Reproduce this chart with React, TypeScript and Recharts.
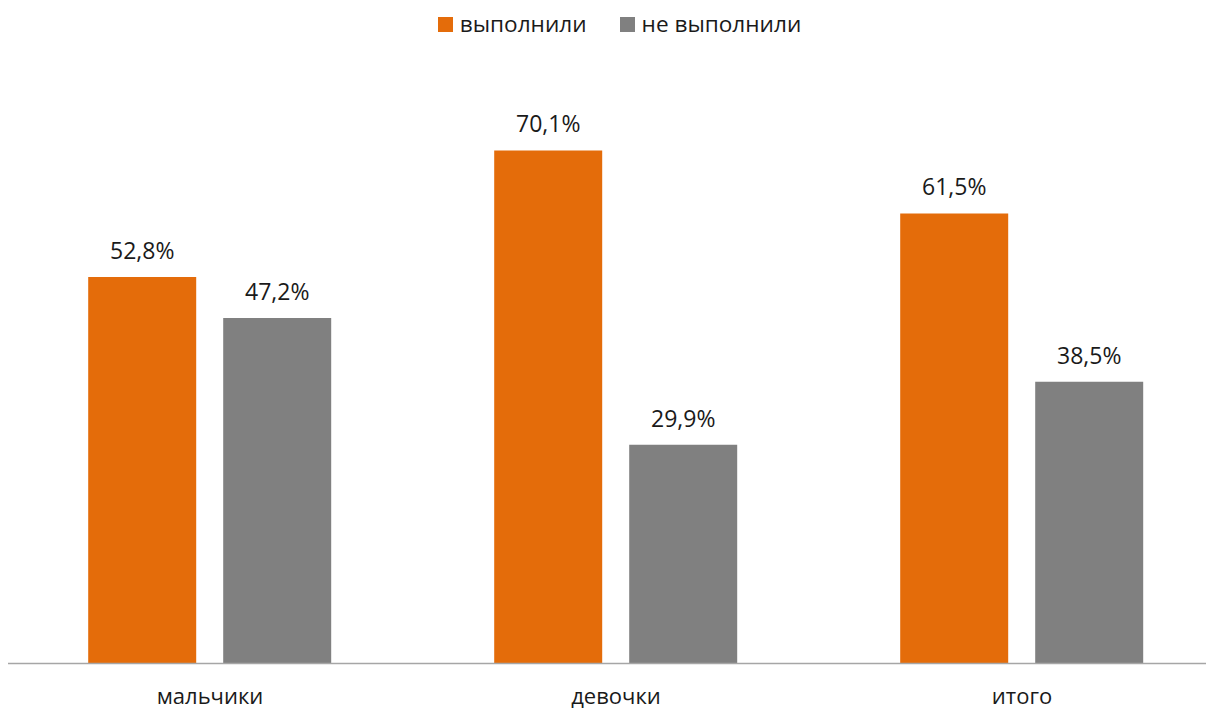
import React from "react";
import { BarChart, Bar, XAxis, YAxis, Legend, LabelList } from "recharts";

const categories = ["мальчики", "девочки", "итого"];
const doneValues = [52.8, 70.1, 61.5];
const notDoneValues = [47.2, 29.9, 38.5];
const seriesNames = ["выполнили", "не выполнили"];
const colors = ["#E46C0A", "#808080"];

const data = categories.map((c, i) => ({
  name: c,
  done: doneValues[i],
  notDone: notDoneValues[i],
}));

const FONT = "'Open Sans', 'Noto Sans', sans-serif";

const fmt = (v: any) => `${String(Number(v).toFixed(1)).replace(".", ",")}%`;

const LegendContent = () => (
  <div
    style={{
      height: 78,
      display: "flex",
      justifyContent: "center",
      alignItems: "flex-start",
      boxSizing: "border-box",
      fontFamily: FONT,
      fontSize: 22.6,
      color: "#1a1a1a",
      paddingLeft: 14,
    }}
  >
    {seriesNames.map((n, i) => (
      <div
        key={n}
        style={{
          display: "flex",
          alignItems: "center",
          marginLeft: i === 0 ? 0 : 33,
          marginTop: 8,
          lineHeight: "32px",
        }}
      >
        <span
          style={{
            display: "inline-block",
            width: 15,
            height: 15,
            background: colors[i],
            marginRight: 7,
          }}
        />
        <span>{n}</span>
      </div>
    ))}
  </div>
);

export default function App() {
  return (
    <div
      style={{
        marginLeft: -8,
        marginTop: -8,
        width: 1214,
        height: 711,
        overflow: "hidden",
        background: "#fff",
        position: "relative",
      }}
    >
      <BarChart
        width={1225}
        height={711}
        data={data}
        margin={{ top: 0, right: 0, bottom: 0, left: 7 }}
        barCategoryGap="20%"
        barGap={27}
      >
        <Legend
          verticalAlign="top"
          align="center"
          content={<LegendContent />}
          wrapperStyle={{ left: 0, width: 1225 }}
        />
        <YAxis hide domain={[0, 80]} />
        <XAxis
          dataKey="name"
          axisLine={{ stroke: "#A6A6A6", strokeWidth: 1.5 }}
          tickLine={false}
          tickSize={0}
          tickMargin={25}
          height={47.5}
          interval={0}
          tick={{ fontFamily: FONT, fontSize: 22, fill: "#1a1a1a" }}
        />
        <Bar dataKey="done" name={seriesNames[0]} fill={colors[0]} isAnimationActive={false}>
          <LabelList
            dataKey="done"
            position="top"
            offset={18}
            formatter={fmt}
            style={{ fontFamily: FONT, fontSize: 23, fill: "#1a1a1a" }}
          />
        </Bar>
        <Bar dataKey="notDone" name={seriesNames[1]} fill={colors[1]} isAnimationActive={false}>
          <LabelList
            dataKey="notDone"
            position="top"
            offset={18}
            formatter={fmt}
            style={{ fontFamily: FONT, fontSize: 23, fill: "#1a1a1a" }}
          />
        </Bar>
      </BarChart>
    </div>
  );
}
